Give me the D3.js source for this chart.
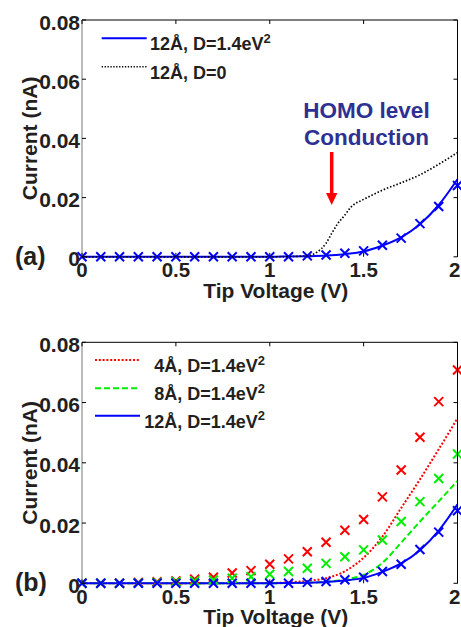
<!DOCTYPE html>
<html>
<head>
<meta charset="utf-8">
<script src="https://cdn.jsdelivr.net/npm/d3@7"></script>
<style>
  body { margin: 0; background: #fff; }
  svg text { font-family: "Liberation Sans", Arial, Helvetica, sans-serif; font-weight: bold; }
</style>
</head>
<body>
<div id="chart"></div>
<script>
// tick labels
const xTicks = [0, 0.5, 1, 1.5, 2];
const yTicks = [0, 0.02, 0.04, 0.06, 0.08];

// marker voltages (0, 0.1, ... 2.0)
const markerV = [0, 0.1, 0.2, 0.3, 0.4, 0.5, 0.6, 0.7, 0.8, 0.9, 1.0, 1.1, 1.2, 1.3, 1.4, 1.5, 1.6, 1.7, 1.8, 1.9, 2.0];

// 12A, D=1.4eV^2 (solid blue line + crosses, both panels)
const blueLineV = [0, 0.5, 1.0, 1.1, 1.2, 1.3, 1.4, 1.5, 1.6, 1.7, 1.8, 1.9, 2.0];
const blueLineI = [0, 0, 0, 0.0001, 0.0002, 0.0004, 0.0009, 0.0018, 0.0038, 0.0066, 0.0110, 0.0175, 0.0262];
const blueMarkI = [0, 0, 0, 0, 0, 0, 0, 0, 0, 0, 0, 0, 0.0003, 0.0006, 0.0012, 0.0020, 0.0039, 0.0063, 0.0112, 0.0170, 0.0241];

// 12A, D=0 (dotted black, panel a)
const blackLineV = [0, 0.5, 1.0, 1.2, 1.25, 1.3, 1.33, 1.36, 1.4, 1.43, 1.5, 1.55, 1.6, 1.7, 1.8, 1.9, 2.0];
const blackLineI = [0, 0, 0, 0.0003, 0.0015, 0.0046, 0.0079, 0.0110, 0.0141, 0.0166, 0.0194, 0.0210, 0.0225, 0.0250, 0.0277, 0.0313, 0.0352];

// 4A, D=1.4eV^2 (dotted red, panel b)
const redLineV = [0, 0.5, 1.0, 1.1, 1.2, 1.3, 1.4, 1.5, 1.6, 1.7, 1.8, 1.9, 2.0];
const redLineI = [0, 0, 0.0001, 0.0003, 0.0008, 0.0017, 0.0040, 0.0085, 0.0155, 0.0250, 0.0345, 0.0445, 0.0548];
const redMarkI = [0, 0, 0, 0.0003, 0.0005, 0.0008, 0.0014, 0.0020, 0.0034, 0.0042, 0.0063, 0.0081, 0.0105, 0.0136, 0.0176, 0.0212, 0.0287, 0.0376, 0.0485, 0.0603, 0.0708];

// 8A, D=1.4eV^2 (dashed green, panel b)
const greenLineV = [0, 0.5, 1.0, 1.1, 1.2, 1.3, 1.4, 1.5, 1.6, 1.7, 1.8, 1.9, 2.0];
const greenLineI = [0, 0, 0, 0.0001, 0.0002, 0.0005, 0.0013, 0.0028, 0.0068, 0.0135, 0.0205, 0.0272, 0.0340];
const greenMarkI = [0, 0, 0, 0.0001, 0.0003, 0.0005, 0.0008, 0.0011, 0.0017, 0.0022, 0.0030, 0.0039, 0.0050, 0.0066, 0.0088, 0.0111, 0.0144, 0.0205, 0.0271, 0.0348, 0.0429];

const width = 461, height = 627;
const svg = d3.select("#chart").append("svg")
  .attr("width", width)
  .attr("height", height);

const panels = [
  { id: "a", top: 20, bottom: 256.8 },
  { id: "b", top: 342.3, bottom: 583.3 }
];
const left = 82, right = 457.5;

const x = d3.scaleLinear().domain([0, 2]).range([left, right]);

function drawAxes(g, y, p) {
  // box
  g.append("line").attr("x1", left).attr("x2", right).attr("y1", p.top).attr("y2", p.top).attr("stroke", "#000");
  g.append("line").attr("x1", right).attr("x2", right).attr("y1", p.top).attr("y2", p.bottom).attr("stroke", "#000");
  g.append("line").attr("x1", left).attr("x2", left).attr("y1", p.top).attr("y2", p.bottom).attr("stroke", "#777");

  const tl = 4;
  xTicks.forEach((t, i) => {
    const last = i === xTicks.length - 1;
    g.append("line").attr("x1", x(t)).attr("x2", x(t)).attr("y1", p.bottom).attr("y2", p.bottom - tl).attr("stroke", "#000");
    g.append("line").attr("x1", x(t)).attr("x2", x(t)).attr("y1", p.top).attr("y2", p.top + tl).attr("stroke", "#000");
    g.append("text").attr("x", last ? width - 0.5 : x(t)).attr("y", p.bottom + 20.5)
      .attr("text-anchor", last ? "end" : "middle").attr("font-size", "20.5px").attr("fill", "#231f20")
      .text(t);
  });
  yTicks.forEach(t => {
    g.append("line").attr("x1", left).attr("x2", left + tl).attr("y1", y(t)).attr("y2", y(t)).attr("stroke", "#000");
    g.append("line").attr("x1", right).attr("x2", right - tl).attr("y1", y(t)).attr("y2", y(t)).attr("stroke", "#000");
    g.append("text").attr("x", left - 2).attr("y", y(t) + 9.5)
      .attr("text-anchor", "end").attr("font-size", "21px").attr("fill", "#231f20")
      .text(t);
  });

  g.append("text")
    .attr("transform", `translate(37,${(p.top + p.bottom) / 2}) rotate(-90)`)
    .attr("text-anchor", "middle").attr("font-size", "21px").attr("fill", "#231f20")
    .text("Current (nA)");
  g.append("text")
    .attr("x", (left + right) / 2 + 6).attr("y", p.bottom + 41)
    .attr("text-anchor", "middle").attr("font-size", "21px").attr("fill", "#231f20")
    .text("Tip Voltage (V)");
  g.append("text")
    .attr("x", 15).attr("y", p.bottom + 8)
    .attr("font-size", "25px").attr("fill", "#231f20")
    .text("(" + p.id + ")");
}

function drawLine(g, y, vs, is, color, width, dash) {
  const line = d3.line()
    .x(d => x(d[0]))
    .y(d => y(d[1]))
    .curve(d3.curveMonotoneX);
  g.append("path")
    .datum(vs.map((v, i) => [v, is[i]]))
    .attr("d", line)
    .attr("fill", "none")
    .attr("stroke", color)
    .attr("stroke-width", width)
    .attr("stroke-dasharray", dash);
}

function drawCrosses(g, y, is, color) {
  const s = 4.5;
  g.selectAll(null)
    .data(markerV.map((v, i) => [v, is[i]]))
    .enter()
    .append("path")
    .attr("d", d => {
      const cx = x(d[0]), cy = y(d[1]);
      return `M${cx - s},${cy - s}L${cx + s},${cy + s}M${cx - s},${cy + s}L${cx + s},${cy - s}`;
    })
    .attr("stroke", color)
    .attr("stroke-width", 2)
    .attr("fill", "none");
}

function legendRow(g, lx0, lx1, ly, color, width, dash, label, anchor, tx) {
  g.append("line").attr("x1", lx0).attr("x2", lx1).attr("y1", ly).attr("y2", ly)
    .attr("stroke", color).attr("stroke-width", width).attr("stroke-dasharray", dash);
  const t = g.append("text").attr("x", tx).attr("y", ly + 12)
    .attr("text-anchor", anchor).attr("font-size", "18px").attr("fill", "#231f20");
  t.append("tspan").text(label[0]);
  if (label[1]) {
    t.append("tspan").attr("dy", -7.5).attr("font-size", "13px").text(label[1]);
  }
}

// ---- panel (a)
{
  const p = panels[0];
  const y = d3.scaleLinear().domain([0, 0.08]).range([p.bottom, p.top]);
  const g = svg.append("g").attr("class", "panelA");

  drawLine(g, y, blueLineV, blueLineI, "#0000ff", 2, null);
  drawCrosses(g, y, blueMarkI, "#0000ff");
  drawLine(g, y, blackLineV, blackLineI, "#000", 1.7, "1.5,1.9");
  drawAxes(g, y, p);

  legendRow(g, 101.7, 146.7, 38.3, "#0000ff", 2, null, ["12Å, D=1.4eV", "2"], "start", 150);
  legendRow(g, 101.7, 146.7, 66.7, "#000", 1.5, "1.3,1.6", ["12Å, D=0"], "start", 150);

  // annotation
  g.append("text").attr("x", 366.5).attr("y", 118.3).attr("text-anchor", "middle")
    .attr("font-size", "22.5px").attr("fill", "#2e3192").text("HOMO level");
  g.append("text").attr("x", 366.5).attr("y", 145).attr("text-anchor", "middle")
    .attr("font-size", "22.5px").attr("fill", "#2e3192").text("Conduction");
  g.append("line").attr("x1", 331.7).attr("x2", 331.7).attr("y1", 152).attr("y2", 194)
    .attr("stroke", "#ff0000").attr("stroke-width", 3.5);
  g.append("path").attr("d", "M326,193L337.4,193L331.7,205Z").attr("fill", "#ff0000");
}

// ---- panel (b)
{
  const p = panels[1];
  const y = d3.scaleLinear().domain([0, 0.08]).range([p.bottom, p.top]);
  const g = svg.append("g").attr("class", "panelB");

  drawLine(g, y, redLineV, redLineI, "#ff0000", 2, "2,1.8");
  drawLine(g, y, greenLineV, greenLineI, "#00ee00", 2, "6,3");
  drawLine(g, y, blueLineV, blueLineI, "#0000ff", 2, null);
  drawCrosses(g, y, redMarkI, "#ff0000");
  drawCrosses(g, y, greenMarkI, "#00ee00");
  drawCrosses(g, y, blueMarkI, "#0000ff");
  drawAxes(g, y, p);

  legendRow(g, 95, 140, 360, "#ff0000", 2, "2,1.8", ["4Å, D=1.4eV", "2"], "end", 265);
  legendRow(g, 95, 140, 388.3, "#00ee00", 2, "6,3", ["8Å, D=1.4eV", "2"], "end", 265);
  legendRow(g, 95, 140, 415.7, "#0000ff", 2, null, ["12Å, D=1.4eV", "2"], "end", 265);
}
</script>
</body>
</html>
